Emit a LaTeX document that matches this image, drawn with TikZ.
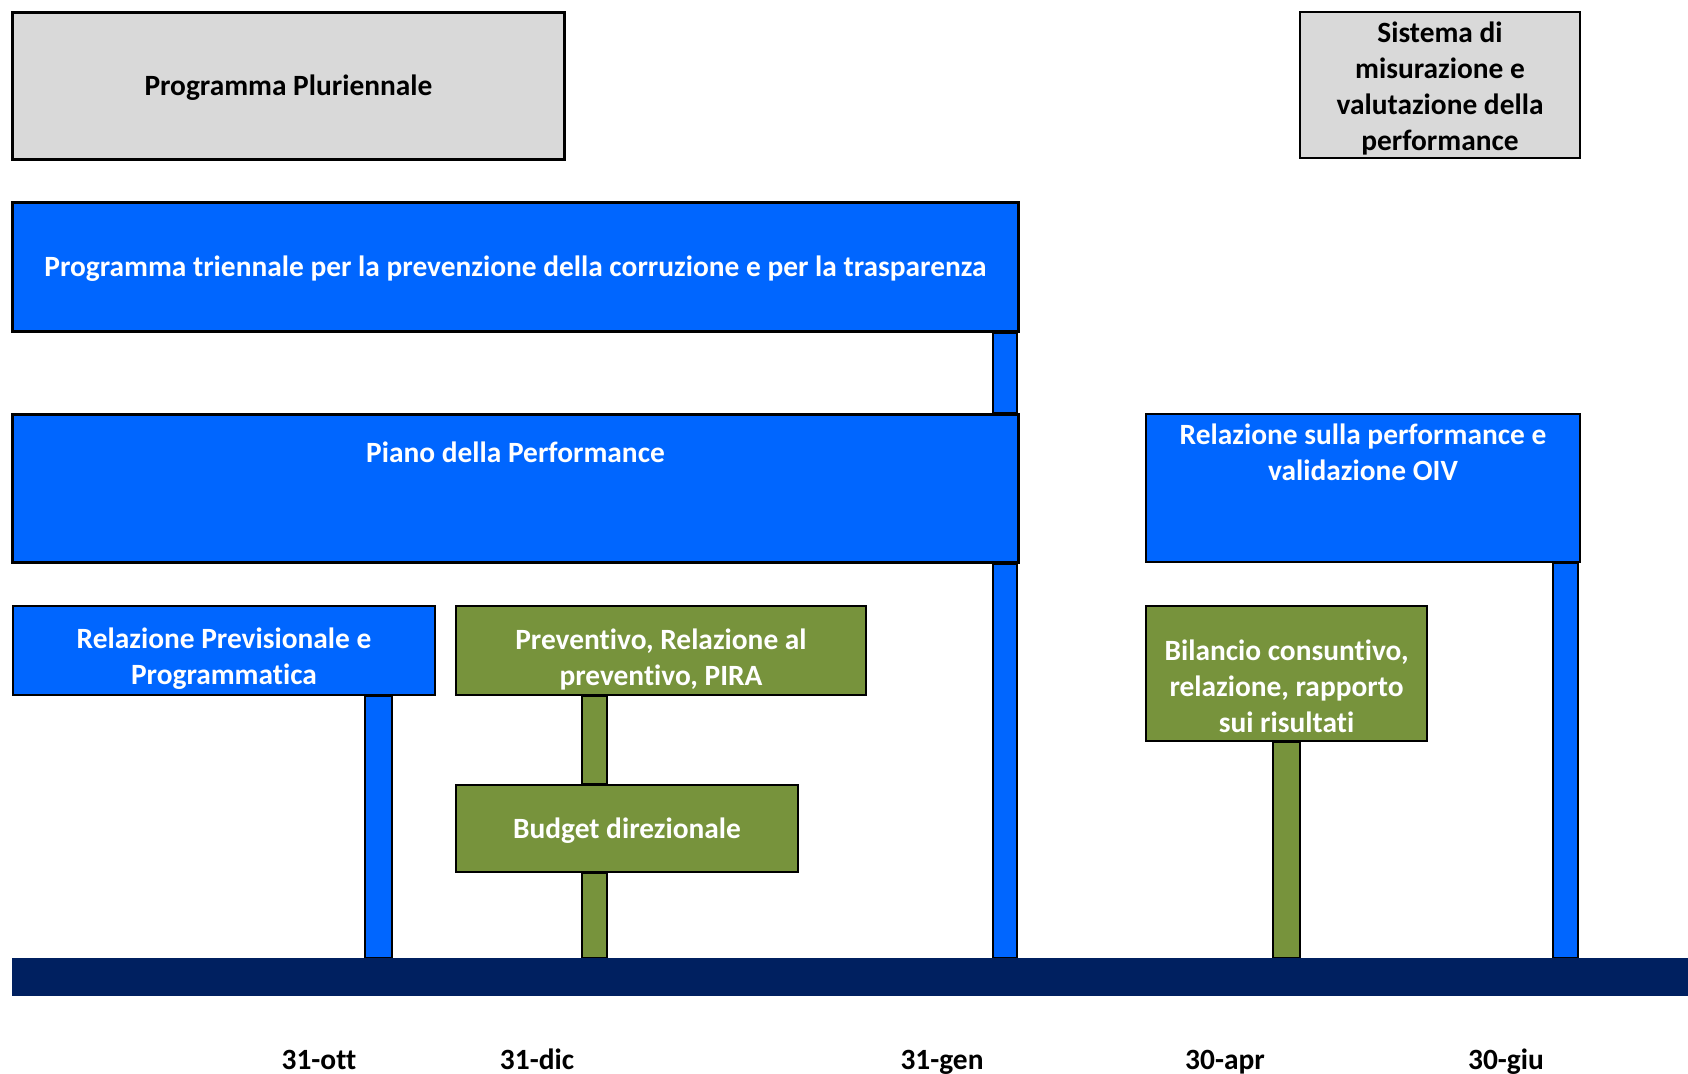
\documentclass[tikz,border=0pt]{standalone}
\usepackage{fontspec}
\setmainfont[Ligatures=NoCommon]{Carlito}
\usetikzlibrary{calc}
\pgfdeclarelayer{background}
\pgfsetlayers{background,main}
\definecolor{cblue}{RGB}{0,102,255}
\definecolor{cgreen}{RGB}{119,147,60}
\definecolor{cnavy}{RGB}{0,32,96}
\definecolor{cgray}{RGB}{217,217,217}
\tikzset{
  boxbase/.style={draw=black, anchor=north west, inner sep=0pt},
  graybox/.style={boxbase, fill=cgray},
  bluebox/.style={boxbase, fill=cblue},
  greenbox/.style={boxbase, fill=cgreen},
  boxtext/.style={inner sep=0pt, align=center, font=\fontsize{29.4}{36}\selectfont\bfseries},
  whitetext/.style={boxtext, text=white},
  blacktext/.style={boxtext, text=black},
  barblue/.style={draw=black, line width=2pt, fill=cblue},
  bargreen/.style={draw=black, line width=2pt, fill=cgreen},
  datelabel/.style={inner sep=0pt, anchor=base, font=\fontsize{29.4}{36}\selectfont\bfseries, text=black}
}
\begin{document}
\begin{tikzpicture}[x=1pt,y=-1pt]
\useasboundingbox (0,0) rectangle (1688,1073);
% timeline
\node[anchor=north west, fill=cnavy, inner sep=0pt, minimum width=1676pt, minimum height=38pt] (timeline) at (12,958) {};
% boxes
\node[graybox, line width=3pt, minimum width=552pt, minimum height=147pt] (plur) at (11,11) {};
\node[blacktext] (plurt) at ($(plur.center)+(0,2)$) {Programma Pluriennale};
\node[graybox, line width=2pt, minimum width=280pt, minimum height=146pt] (sis) at (1299,11) {};
\node[blacktext] (sist) at ($(sis.center)+(0,3.5)$) {Sistema di\\misurazione e\\valutazione della\\performance};
\node[bluebox, line width=3pt, minimum width=1006pt, minimum height=129pt] (tri) at (11,201) {};
\node[whitetext] (trit) at ($(tri.center)+(0,2)$) {Programma triennale per la prevenzione della corruzione e per la trasparenza};
\node[bluebox, line width=3pt, minimum width=1006pt, minimum height=148pt] (piano) at (11,413) {};
\node[whitetext] (pianot) at ($(piano.north)+(0,39)$) {Piano della Performance};
\node[bluebox, line width=2pt, minimum width=434pt, minimum height=148pt] (oiv) at (1145,413) {};
\node[whitetext, anchor=north] (oivt) at ($(oiv.north)+(0,11)$) {Relazione sulla performance e\\validazione OIV};
\node[bluebox, line width=2pt, minimum width=422pt, minimum height=89pt] (rpp) at (12,605) {};
\node[whitetext] (rppt) at ($(rpp.center)+(0,8.5)$) {Relazione Previsionale e\\Programmatica};
\node[greenbox, line width=2pt, minimum width=410pt, minimum height=89pt] (prev) at (455,605) {};
\node[whitetext] (prevt) at ($(prev.center)+(0,8.5)$) {Preventivo, Relazione al\\preventivo, PIRA};
\node[greenbox, line width=2pt, minimum width=342pt, minimum height=87pt] (bud) at (455,784) {};
\node[whitetext] (budt) at ($(bud.center)+(0,2)$) {Budget direzionale};
\node[greenbox, line width=2pt, minimum width=281pt, minimum height=135pt] (bil) at (1145,605) {};
\node[whitetext] (bilt) at ($(bil.center)+(0,13)$) {Bilancio consuntivo,\\relazione, rapporto\\sui risultati};
% bars
\begin{pgfonlayer}{background}
\draw[barblue] (993,0 |- tri.south) rectangle (1017,0 |- piano.north);
\draw[barblue] (993,0 |- piano.south) rectangle (1017,0 |- timeline.north);
\draw[barblue] (1553,0 |- oiv.south) rectangle (1578,0 |- timeline.north);
\draw[barblue] (365,0 |- rpp.south) rectangle (392,0 |- timeline.north);
\draw[bargreen] (582,0 |- prev.south) rectangle (607,0 |- bud.north);
\draw[bargreen] (582,0 |- bud.south) rectangle (607,0 |- timeline.north);
\draw[bargreen] (1273,0 |- bil.south) rectangle (1300,0 |- timeline.north);
\end{pgfonlayer}
% dates
\node[datelabel] (d1) at (319,1069) {31-ott};
\node[datelabel] (d2) at (537,1069) {31-dic};
\node[datelabel] (d3) at (942,1069) {31-gen};
\node[datelabel] (d4) at (1225,1069) {30-apr};
\node[datelabel] (d5) at (1506,1069) {30-giu};
\end{tikzpicture}
\end{document}
